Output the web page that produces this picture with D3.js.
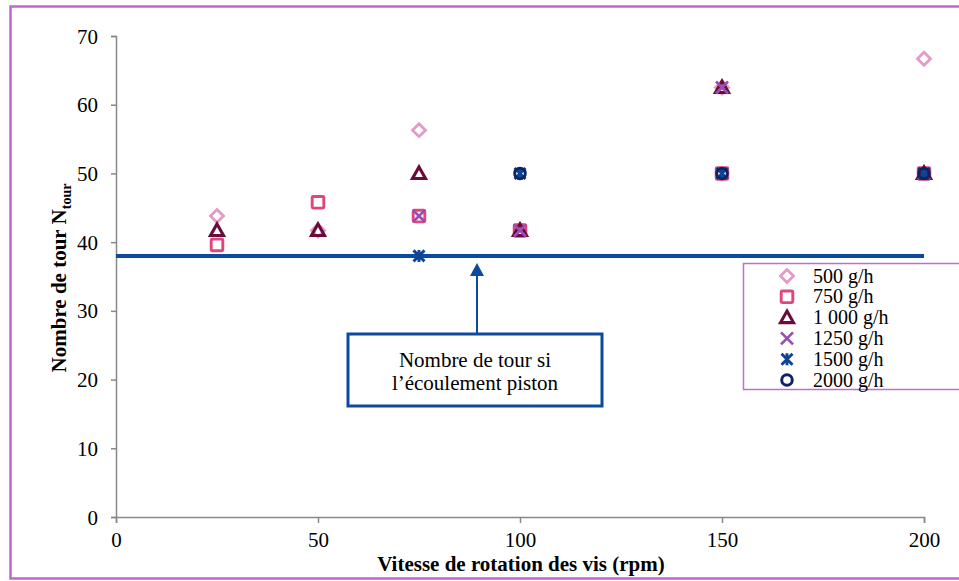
<!DOCTYPE html>
<html><head><meta charset="utf-8">
<script src="https://cdn.jsdelivr.net/npm/d3@7"></script>
<style>body{margin:0;background:#fff}svg{display:block}</style>
</head><body><svg id="c" width="959" height="581"></svg>
<script>
const speeds = [25, 50, 75, 100, 150, 200];
const s500  = [43.8, 41.7, 56.3, null, 62.5, 66.7];
const s750  = [39.6, 45.8, 43.8, 41.7, 50, 50];
const s1000 = [41.7, 41.7, 50, 41.7, 62.5, 50];
const s1250 = [null, null, 43.8, 41.7, 62.5, 50];
const s1500 = [null, null, 38, 50, 50, 50];
const s2000 = [null, null, null, 50, 50, 50];
const seriesNames = ["500 g/h", "750 g/h", "1 000 g/h", "1250 g/h", "1500 g/h", "2000 g/h"];
const xTicks = [0, 50, 100, 150, 200];
const yTicks = [0, 10, 20, 30, 40, 50, 60, 70];
const pistonLevel = 38;
const annotation = ["Nombre de tour si", "l\u2019écoulement piston"];

const colors = ["#e29ac6", "#e0457e", "#690c3b", "#9a4db2", "#0d4595", "#0c2462"];
const shapes = ["diamond", "square", "triangle", "cross", "star", "circle"];
const seriesVals = [s500, s750, s1000, s1250, s1500, s2000];
const FONT = "Liberation Serif";
const FS = 21;

const svg = d3.select("#c");
svg.append("rect").attr("x", 10.5).attr("y", 6.5).attr("width", 960).attr("height", 572)
  .attr("fill", "none").attr("stroke", "#c165d2").attr("stroke-width", 2.5);

const x = d3.scaleLinear().domain([0, 200]).range([116, 924]);
const y = d3.scaleLinear().domain([0, 70]).range([517, 36]);

const axisColor = "#888";
const gx = svg.append("g").attr("transform", "translate(0,517)")
  .call(d3.axisBottom(x).tickValues(xTicks).tickSize(6).tickPadding(9));
const gy = svg.append("g").attr("transform", "translate(116,0)")
  .call(d3.axisLeft(y).tickValues(yTicks).tickSize(5).tickPadding(13));
[gx, gy].forEach(g => {
  g.attr("font-family", FONT).attr("font-size", FS);
  g.select(".domain").attr("stroke", axisColor).attr("stroke-width", 1.5);
  g.selectAll(".tick line").attr("stroke", axisColor).attr("stroke-width", 1.5);
  g.selectAll(".tick text").attr("fill", "#000");
});
gx.selectAll(".tick text").attr("dy", "0.72em");
gy.selectAll(".tick text").attr("dy", "0.34em");

svg.append("text").attr("x", 521).attr("y", 571).attr("text-anchor", "middle")
  .attr("font-family", FONT).attr("font-size", FS).attr("font-weight", "bold")
  .text("Vitesse de rotation des vis (rpm)");
const yt = svg.append("text").attr("transform", "translate(66,278) rotate(-90)").attr("text-anchor", "middle")
  .attr("font-family", FONT).attr("font-size", FS).attr("font-weight", "bold");
yt.append("tspan").text("Nombre de tour N");
yt.append("tspan").attr("dy", 5).attr("font-size", 14).text("tour");

svg.append("line").attr("x1", x(0)).attr("x2", x(200)).attr("y1", y(pistonLevel)).attr("y2", y(pistonLevel))
  .attr("stroke", "#0b4a9e").attr("stroke-width", 4);

function marker(g, shape, color, cx, cy) {
  if (shape === "diamond") {
    g.append("path").attr("d", `M${cx},${cy-6.5}L${cx+6.5},${cy}L${cx},${cy+6.5}L${cx-6.5},${cy}Z`)
      .attr("fill", "none").attr("stroke", color).attr("stroke-width", 2.8);
  } else if (shape === "square") {
    g.append("rect").attr("x", cx-5.8).attr("y", cy-5.8).attr("width", 11.6).attr("height", 11.6).attr("rx", 1)
      .attr("fill", "none").attr("stroke", color).attr("stroke-width", 2.9);
  } else if (shape === "triangle") {
    g.append("path").attr("d", `M${cx},${cy-6.5}L${cx+6.5},${cy+5}L${cx-6.5},${cy+5}Z`)
      .attr("fill", "none").attr("stroke", color).attr("stroke-width", 3.1);
  } else if (shape === "cross") {
    g.append("path").attr("d", `M${cx-6},${cy-6}L${cx+6},${cy+6}M${cx-6},${cy+6}L${cx+6},${cy-6}`)
      .attr("stroke", color).attr("stroke-width", 2.7);
  } else if (shape === "star") {
    g.append("path").attr("d", `M${cx-5.5},${cy-5.5}L${cx+5.5},${cy+5.5}M${cx-5.5},${cy+5.5}L${cx+5.5},${cy-5.5}M${cx},${cy-6}L${cx},${cy+6}`)
      .attr("stroke", color).attr("stroke-width", 2.9);
  } else if (shape === "circle") {
    g.append("circle").attr("cx", cx).attr("cy", cy).attr("r", 5.3)
      .attr("fill", "none").attr("stroke", color).attr("stroke-width", 3);
  }
}

const pts = svg.append("g");
seriesVals.forEach((vals, i) => {
  vals.forEach((v, j) => {
    if (v === null) return;
    marker(pts, shapes[i], colors[i], x(speeds[j]), y(v));
  });
});

const ax = 477;
svg.append("line").attr("x1", ax).attr("x2", ax).attr("y1", 333).attr("y2", 272)
  .attr("stroke", "#0b4a9e").attr("stroke-width", 2);
svg.append("path").attr("d", `M${ax},${y(pistonLevel)+7}L${ax+7},${y(pistonLevel)+20}L${ax-7},${y(pistonLevel)+20}Z`)
  .attr("fill", "#0b4a9e");
svg.append("rect").attr("x", 348).attr("y", 334).attr("width", 254).attr("height", 72)
  .attr("fill", "#fff").attr("stroke", "#0b4a9e").attr("stroke-width", 3);
annotation.forEach((t, i) => {
  svg.append("text").attr("x", 475).attr("y", 367 + i * 23).attr("text-anchor", "middle")
    .attr("font-family", FONT).attr("font-size", FS).text(t);
});

const lg = svg.append("g");
lg.append("rect").attr("x", 743.5).attr("y", 263.5).attr("width", 230).attr("height", 126)
  .attr("fill", "#fff").attr("stroke", "#c070c8").attr("stroke-width", 1.5);
seriesNames.forEach((n, i) => {
  const ly = 276 + i * 20.8;
  marker(lg, shapes[i], colors[i], 787, ly);
  lg.append("text").attr("x", 813).attr("y", ly + 6.5).attr("font-family", FONT).attr("font-size", 20).text(n);
});
</script></body></html>
